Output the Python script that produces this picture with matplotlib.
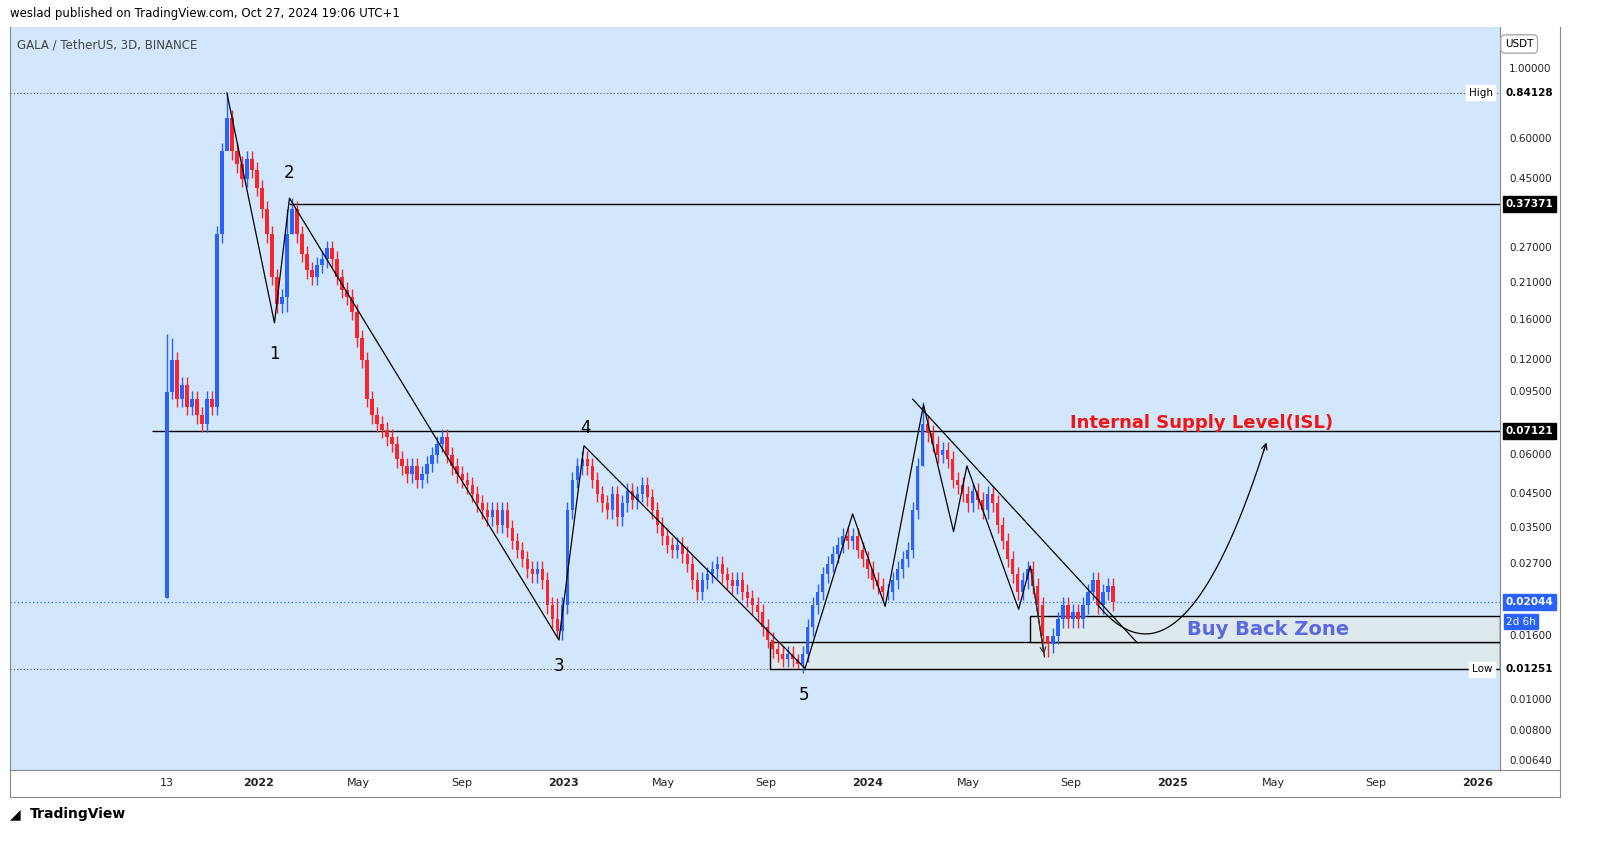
import numpy as np
import pandas as pd
import matplotlib
matplotlib.use("Agg")
import matplotlib.pyplot as plt
import matplotlib.dates as mdates
from matplotlib.patches import Rectangle

# --- data: 6-day closes, starting Sep 13 2021 ---
start_date = "2021-09-13"
first_open = 0.021
closes = [
    0.095, 0.12, 0.09, 0.1, 0.085, 0.09, 0.08, 0.075, 0.09, 0.085,
    0.3, 0.55, 0.7, 0.55, 0.5, 0.45, 0.52, 0.48, 0.42, 0.36,
    0.3, 0.22, 0.18, 0.19, 0.3, 0.36, 0.3, 0.26, 0.23, 0.22,
    0.24, 0.25, 0.27, 0.25, 0.22, 0.2, 0.19, 0.17, 0.14, 0.12,
    0.09, 0.08, 0.075, 0.072, 0.068, 0.065, 0.058, 0.055, 0.052, 0.055,
    0.05, 0.052, 0.056, 0.06, 0.065, 0.068, 0.06, 0.055, 0.052, 0.05,
    0.048, 0.045, 0.042, 0.04, 0.038, 0.04, 0.036, 0.04, 0.035, 0.032,
    0.03, 0.028, 0.026, 0.025, 0.026, 0.024, 0.02, 0.018, 0.0165, 0.02,
    0.04, 0.05, 0.055, 0.058, 0.055, 0.05, 0.045, 0.042, 0.04, 0.045,
    0.038, 0.042, 0.046, 0.043, 0.045, 0.048, 0.044, 0.04, 0.036, 0.033,
    0.031, 0.03, 0.031, 0.029, 0.027, 0.024, 0.022, 0.024, 0.025, 0.026,
    0.027, 0.025, 0.024, 0.023, 0.024, 0.022, 0.021, 0.02, 0.019, 0.017,
    0.0155, 0.0145, 0.014, 0.0135, 0.014, 0.0135, 0.013, 0.014, 0.017, 0.02,
    0.022, 0.025, 0.027, 0.029, 0.031, 0.033, 0.032, 0.033, 0.03, 0.028,
    0.026, 0.024, 0.023, 0.022, 0.022, 0.024, 0.026, 0.028, 0.03, 0.04,
    0.055, 0.075, 0.07, 0.065, 0.06, 0.062, 0.058, 0.05, 0.048, 0.045,
    0.042, 0.046, 0.043, 0.04, 0.045, 0.042, 0.036, 0.032, 0.028, 0.025,
    0.022, 0.024, 0.026, 0.023, 0.02, 0.016, 0.015, 0.016, 0.018, 0.02,
    0.018, 0.019, 0.018, 0.02, 0.022, 0.024, 0.02, 0.022, 0.023, 0.02044,
]
# wick extremes at notable candles (index: (high, low))
wick_extremes = {0: (0.145, 0.021), 1: (0.14, 0.09), 12: (0.84128, 0.6), 24: (0.36, 0.17),
                 25: (0.39, 0.3), 78: (0.021, 0.0158), 126: (0.014, 0.01251),
                 151: (0.088, 0.055), 176: (0.016, 0.0137)}

# annotation drawings (date, price)
zigzag_left = [("2021-11-24", 0.84), ("2022-01-20", 0.157), ("2022-02-07", 0.39),
               ("2022-12-27", 0.0155), ("2023-01-26", 0.064), ("2023-10-18", 0.0126),
               ("2023-12-14", 0.0389), ("2024-01-22", 0.0198), ("2024-03-08", 0.0863),
               ("2024-04-13", 0.0342), ("2024-04-29", 0.0552), ("2024-06-30", 0.0194),
               ("2024-07-14", 0.0266), ("2024-07-31", 0.0137)]
trendline = [("2024-02-24", 0.0899), ("2024-11-19", 0.0152)]
curve_pts = [("2024-10-03", 0.0200), ("2024-11-29", 0.0162), ("2025-04-24", 0.0668)]
wave_labels = ["1", "2", "3", "4", "5"]
wave_label_pos = [("2022-01-20", 0.125), ("2022-02-07", 0.47), ("2022-12-27", 0.0128),
                  ("2023-01-28", 0.073), ("2023-10-17", 0.0104)]
level_high, level_low = 0.84128, 0.01251
level_mid, level_isl, last_price = 0.37371, 0.07121, 0.02044
zone_upper = (0.01527, 0.01846, "2024-07-14")
zone_lower = (0.01254, 0.01527, "2023-09-06")
right_ticks = [1.0, 0.6, 0.45, 0.27, 0.21, 0.16, 0.12, 0.095, 0.06, 0.045,
               0.035, 0.027, 0.016, 0.01, 0.008, 0.0064]

W, H = 1623, 860
fig = plt.figure(figsize=(W / 100, H / 100), dpi=100)
bg = "#d2e7fc"
ax = fig.add_axes([10 / W, 1 - 770 / H, 1490 / W, 743 / H])
ax.set_facecolor(bg)
ax.set_yscale("log")
x0 = mdates.date2num(pd.Timestamp("2021-03-09"))
x1 = mdates.date2num(pd.Timestamp("2026-01-28"))
ax.set_xlim(x0, x1)
ax.set_ylim(0.006, 1.36)
for s in ax.spines.values():
    s.set_visible(False)
ax.tick_params(which="both", left=False, right=False, labelleft=False,
               bottom=False, labelbottom=False)

# candles
dates = mdates.date2num(pd.date_range(start_date, periods=len(closes), freq="6D"))
opens = [first_open] + closes[:-1]
for i, (d, o, c) in enumerate(zip(dates, opens, closes)):
    col = "#2962ff" if c >= o else "#f7262d"
    hi, lo = max(o, c) * 1.06, min(o, c) * 0.94
    if i in wick_extremes:
        hi, lo = wick_extremes[i]
    ax.vlines(d, lo, hi, color=col, lw=1.0, zorder=3)
    ax.add_patch(Rectangle((d - 2.0, min(o, c)), 4.0, abs(c - o) + 1e-9,
                           color=col, lw=0, zorder=3))

# levels
ax.axhline(level_high, color="#555", lw=0.8, ls=(0, (1, 2)))
ax.axhline(level_low, color="#555", lw=0.8, ls=(0, (1, 2)))
ax.axhline(last_price, color="#2962ff", lw=0.9, ls=(0, (1, 2)))
ax.hlines(level_mid, mdates.date2num(pd.Timestamp("2022-02-07")), x1, color="black", lw=1)
ax.hlines(level_isl, mdates.date2num(pd.Timestamp("2021-08-26")), x1, color="black", lw=1)

# zones
for lo, hi, d in (zone_lower, zone_upper):
    xs = mdates.date2num(pd.Timestamp(d))
    ax.add_patch(Rectangle((xs, lo), x1 - xs, hi - lo, facecolor="#dde9ec",
                           edgecolor="black", lw=1, zorder=2))

# drawings
zd = mdates.date2num(pd.to_datetime([p[0] for p in zigzag_left]))
ax.plot(zd, [p[1] for p in zigzag_left], color="black", lw=0.9, zorder=4)
ax.annotate("", xy=(zd[-1], zigzag_left[-1][1]), xytext=(zd[-2], zigzag_left[-2][1]),
            arrowprops=dict(arrowstyle="->", color="#333", lw=0.9), zorder=4)
td = mdates.date2num(pd.to_datetime([p[0] for p in trendline]))
ax.plot(td, [p[1] for p in trendline], color="black", lw=0.9, zorder=4)

cd = mdates.date2num(pd.to_datetime([p[0] for p in curve_pts]))
cl = np.log10([p[1] for p in curve_pts])
# quadratic through three points with vertex at the middle
t = np.linspace(cd[0], cd[2], 200)
a_l = (cl[0] - cl[1]) / (cd[0] - cd[1]) ** 2
a_r = (cl[2] - cl[1]) / (cd[2] - cd[1]) ** 2
ylog = np.where(t < cd[1], cl[1] + a_l * (t - cd[1]) ** 2, cl[1] + a_r * (t - cd[1]) ** 2)
ax.plot(t[:-3], 10 ** ylog[:-3], color="black", lw=0.9, zorder=4)
ax.annotate("", xy=(t[-1], 10 ** ylog[-1]), xytext=(t[-6], 10 ** ylog[-6]),
            arrowprops=dict(arrowstyle="->", color="black", lw=0.9))

for lab, (d, p) in zip(wave_labels, wave_label_pos):
    ax.text(mdates.date2num(pd.Timestamp(d)), p, lab, fontsize=12, ha="center", va="center")

ax.text(mdates.date2num(pd.Timestamp("2025-02-04")), 0.0755, "Internal Supply Level(ISL)",
        color="#f01616", fontsize=13, fontweight="bold", ha="center", va="center")
ax.text(mdates.date2num(pd.Timestamp("2025-04-25")), 0.01675, "Buy Back Zone",
        color="#5b68e0", fontsize=14, fontweight="bold", ha="center", va="center", zorder=5)
ax.text(0.005, 0.985, "GALA / TetherUS, 3D, BINANCE", transform=ax.transAxes,
        fontsize=8.5, color="#444", va="top")

# right price axis
rax = fig.add_axes([1500 / W, 1 - 770 / H, 60 / W, 743 / H])
rax.set_yscale("log")
rax.set_ylim(0.006, 1.36)
rax.set_xlim(0, 1)
rax.tick_params(which="both", left=False, right=False, bottom=False,
                labelleft=False, labelbottom=False)
for s in rax.spines.values():
    s.set_visible(False)
rax.spines["left"].set_visible(True)
rax.spines["left"].set_color("#888")
for v in right_ticks:
    rax.text(0.15, v, f"{v:.5f}", fontsize=7.5, va="center", color="#222")


def badge(v, txt, fc, tc, sub=None):
    rax.text(0.1, v, txt, fontsize=7.5, va="center", color=tc, fontweight="bold",
             bbox=dict(boxstyle="square,pad=0.25", fc=fc, ec=fc))
    if sub:
        rax.text(0.1, v * 0.9, sub, fontsize=7.5, va="top", color=tc,
                 bbox=dict(boxstyle="square,pad=0.2", fc=fc, ec=fc))


badge(level_high, "0.84128", "white", "black")
badge(level_mid, "0.37371", "black", "white")
badge(level_isl, "0.07121", "black", "white")
badge(last_price, "0.02044", "#2962ff", "white", sub="2d 6h")
badge(level_low, "0.01251", "white", "black")
ax.text(0.995, level_high, "High", transform=ax.get_yaxis_transform(), fontsize=7.5,
        ha="right", va="center", bbox=dict(boxstyle="square,pad=0.25", fc="white", ec="white"))
ax.text(0.995, level_low, "Low", transform=ax.get_yaxis_transform(), fontsize=7.5,
        ha="right", va="center", bbox=dict(boxstyle="square,pad=0.25", fc="white", ec="white"))
fig.text(1505 / W, 1 - 44 / H, "USDT", fontsize=7.5, va="center",
         bbox=dict(boxstyle="round,pad=0.4", fc="white", ec="#aaa"))

# bottom date axis
date_ticks = ["2021-09-13", "2022-01-01", "2022-05-01", "2022-09-01", "2023-01-01",
              "2023-05-01", "2023-09-01", "2024-01-01", "2024-05-01", "2024-09-01",
              "2025-01-01", "2025-05-01", "2025-09-01", "2026-01-01"]
date_labels = ["13", "2022", "May", "Sep", "2023", "May", "Sep", "2024", "May", "Sep",
               "2025", "May", "Sep", "2026"]
for d, lab in zip(date_ticks, date_labels):
    bold = lab.isdigit() and len(lab) == 4
    ax.text(mdates.date2num(pd.Timestamp(d)), -0.018, lab, transform=ax.get_xaxis_transform(),
            fontsize=8, ha="center", va="center", color="#222",
            fontweight="bold" if bold else "normal")
fig.add_artist(plt.Line2D([10 / W, 1560 / W], [1 - 770 / H] * 2, color="#888", lw=0.8))
fig.add_artist(plt.Line2D([10 / W, 1560 / W], [1 - 797 / H] * 2, color="#888", lw=0.8))
fig.add_artist(plt.Line2D([1560 / W] * 2, [1 - 797 / H, 1 - 27 / H], color="#888", lw=0.8))
fig.add_artist(plt.Line2D([10 / W] * 2, [1 - 797 / H, 1 - 27 / H], color="#888", lw=0.8))

fig.text(10 / W, 1 - 13 / H, "weslad published on TradingView.com, Oct 27, 2024 19:06 UTC+1",
         fontsize=8.5, va="center")
fig.text(30 / W, 1 - 814 / H, "TradingView", fontsize=10, fontweight="bold", va="center")
fig.text(10 / W, 1 - 814 / H, "◢", fontsize=10, va="center")

fig.savefig("out.png", dpi=100, facecolor="white")
